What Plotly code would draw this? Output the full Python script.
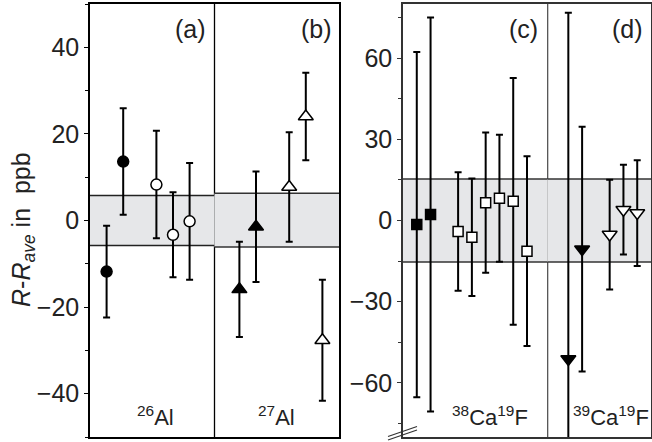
import plotly.graph_objects as go

# ---------------- data ----------------
# panel (a) 26Al
a_fill_x = [1, 2]
a_fill_y = [-11.8, 13.6]
a_fill_err = [10.6, 12.3]
a_open_x = [4, 5, 6]
a_open_y = [8.3, -3.3, -0.2]
a_open_err = [12.4, 9.8, 13.5]
# panel (b) 27Al
b_fill_x = [9, 10]
b_fill_y = [-15.9, -1.45]
b_fill_err = [11.0, 12.75]
b_open_x = [12, 13, 14]
b_open_y = [7.75, 24.0, -27.65]
b_open_err = [12.65, 10.1, 13.95]
# panel (c) 38Ca19F
c_fill_x = [1, 2]
c_fill_y = [-1.5, 2.2]
c_fill_err = [63.8, 72.8]
c_open_x = [4, 5, 6, 7, 8, 9]
c_open_y = [-4.1, -6.2, 6.6, 8.25, 7.1, -11.35]
c_open_err = [21.9, 21.7, 25.9, 23.45, 45.6, 35.05]
# panel (d) 39Ca19F
d_fill_x = [12, 13]
d_fill_y = [-51.2, -10.6]
d_fill_err = [128.0, 45.2]
d_open_x = [15, 16, 17]
d_open_y = [-5.2, 4.0, 2.75]
d_open_err = [20.3, 16.6, 19.55]

# uncertainty bands (low, high) per panel
band_a = [-5.8, 5.8]
band_b = [-6.1, 6.3]
band_c = [-15.3, 15.3]
band_d = [-15.3, 15.3]

# panel extents on the x axes
left_panels = [[0, 7.5], [7.5, 15]]
right_panels = [[0, 10.5], [10.5, 18]]

left_yticks = [-40, -20, 0, 20, 40]
right_yticks = [-60, -30, 0, 30, 60]

panel_letters = ["(a)", "(b)", "(c)", "(d)"]
isotope_labels = ["<sup>26</sup>Al", "<sup>27</sup>Al",
                  "<sup>38</sup>Ca<sup>19</sup>F", "<sup>39</sup>Ca<sup>19</sup>F"]

# ---------------- figure ----------------
W, H = 652, 442
FONT = "Liberation Sans, Arial, Helvetica, sans-serif"
TICK_SIZE = 25

def px_x(p):
    return p / W

def px_y(p):
    return 1 - p / H

fig = go.Figure()

def add_series(x, y, err, symbol, filled, size, xa, ya):
    fig.add_trace(go.Scatter(
        x=x, y=y, mode="markers", xaxis=xa, yaxis=ya,
        marker=dict(symbol=symbol, size=size,
                    color="black" if filled else "white",
                    line=dict(color="black", width=1.5)),
        error_y=dict(type="data", array=err, visible=True,
                     color="black", thickness=2, width=3.5),
        showlegend=False, hoverinfo="skip"))

add_series(a_fill_x, a_fill_y, a_fill_err, "circle", True, 11, "x", "y")
add_series(a_open_x, a_open_y, a_open_err, "circle", False, 11, "x", "y")
add_series(b_fill_x, b_fill_y, b_fill_err, "triangle-up", True, 13, "x", "y")
add_series(b_open_x, b_open_y, b_open_err, "triangle-up", False, 13, "x", "y")
add_series(c_fill_x, c_fill_y, c_fill_err, "square", True, 10, "x2", "y2")
add_series(c_open_x, c_open_y, c_open_err, "square", False, 10, "x2", "y2")
add_series(d_fill_x, d_fill_y, d_fill_err, "triangle-down", True, 13, "x2", "y2")
add_series(d_open_x, d_open_y, d_open_err, "triangle-down", False, 13, "x2", "y2")

shapes = []
def add_band(xr, band, xref, yref, lc):
    shapes.append(dict(type="rect", xref=xref, yref=yref,
                       x0=xr[0], x1=xr[1], y0=band[0], y1=band[1],
                       fillcolor="#e6e7e9", line=dict(width=0), layer="below"))
    for v in band:
        shapes.append(dict(type="line", xref=xref, yref=yref,
                           x0=xr[0], x1=xr[1], y0=v, y1=v,
                           line=dict(color=lc, width=1.5), layer="below"))

add_band(left_panels[0], band_a, "x", "y", "#222")
add_band(left_panels[1], band_b, "x", "y", "#333")
add_band(right_panels[0], band_c, "x2", "y2", "#333")
add_band(right_panels[1], band_d, "x2", "y2", "#333")

# panel dividers
shapes.append(dict(type="line", xref="x", yref="y domain",
                   x0=left_panels[0][1], x1=left_panels[0][1], y0=0, y1=1,
                   line=dict(color="black", width=1.3), layer="below"))
shapes.append(dict(type="line", xref="x2", yref="y2 domain",
                   x0=right_panels[0][1], x1=right_panels[0][1], y0=0, y1=1,
                   line=dict(color="#555", width=1.3), layer="below"))

# axis break marks
for dy in (0, 3.5):
    shapes.append(dict(type="line", xref="paper", yref="paper",
                       x0=px_x(388), y0=px_y(440 - dy), x1=px_x(417), y1=px_y(430 - dy),
                       line=dict(color="#333", width=1.2)))

fig.update_layout(shapes=shapes)

y_top, y_bot = px_y(4), px_y(437)

axis_common = dict(showline=True, mirror=True, zeroline=False, showgrid=False,
                   linewidth=1.5)
fig.update_layout(
    width=W, height=H,
    margin=dict(l=0, r=0, t=0, b=0),
    paper_bgcolor="white", plot_bgcolor="white",
    font=dict(family=FONT, color="black"),
    xaxis=dict(domain=[px_x(90), px_x(339)], range=[0, 15],
               showticklabels=False, ticks="", linecolor="black", **axis_common),
    yaxis=dict(domain=[y_bot, y_top], range=[-50, 50], anchor="x",
               tickvals=left_yticks, ticks="outside", ticklen=4, tickwidth=1.2,
               tickcolor="black", linecolor="black",
               tickfont=dict(size=TICK_SIZE, family=FONT, color="#222"),
               minor=dict(dtick=10, tick0=0, ticks="outside", ticklen=3,
                          tickcolor="black"),
               **axis_common),
    xaxis2=dict(domain=[px_x(403), px_x(651)], range=[0, 18], anchor="y2",
                showticklabels=False, ticks="", linecolor="#333", **axis_common),
    yaxis2=dict(domain=[y_bot, y_top], range=[-80, 80], anchor="x2",
                tickvals=right_yticks, ticks="outside", ticklen=4, tickwidth=1.2,
                tickcolor="#333", linecolor="#333",
                tickfont=dict(size=TICK_SIZE, family=FONT, color="#222"),
                minor=dict(dtick=15, tick0=0, ticks="outside", ticklen=3,
                           tickcolor="#333"),
                **axis_common),
)

ann = []
letter_pos = [(190, 29), (316, 29), (523, 29), (627, 29)]
for t, (xp, yp) in zip(panel_letters, letter_pos):
    ann.append(dict(text=t, xref="paper", yref="paper", x=px_x(xp), y=px_y(yp),
                    xanchor="center", yanchor="middle", showarrow=False,
                    font=dict(size=25, family=FONT, color="#222")))
iso_pos = [(155, 416), (276, 416), (490, 416), (611, 416)]
for t, (xp, yp) in zip(isotope_labels, iso_pos):
    ann.append(dict(text=t, xref="paper", yref="paper", x=px_x(xp), y=px_y(yp),
                    xanchor="center", yanchor="middle", showarrow=False,
                    font=dict(size=22, family=FONT, color="#222")))
ann.append(dict(text="<i>R</i>-<i>R</i><sub><i>ave</i></sub> in\u00a0 ppb",
                xref="paper", yref="paper", x=px_x(23), y=px_y(230),
                xanchor="center", yanchor="middle", textangle=-90, showarrow=False,
                font=dict(size=25, family=FONT, color="#222")))
fig.update_layout(annotations=ann)

fig.write_html("out.html", config={"displayModeBar": False},
               post_script="document.body.style.margin='0';document.body.style.padding='0';")
